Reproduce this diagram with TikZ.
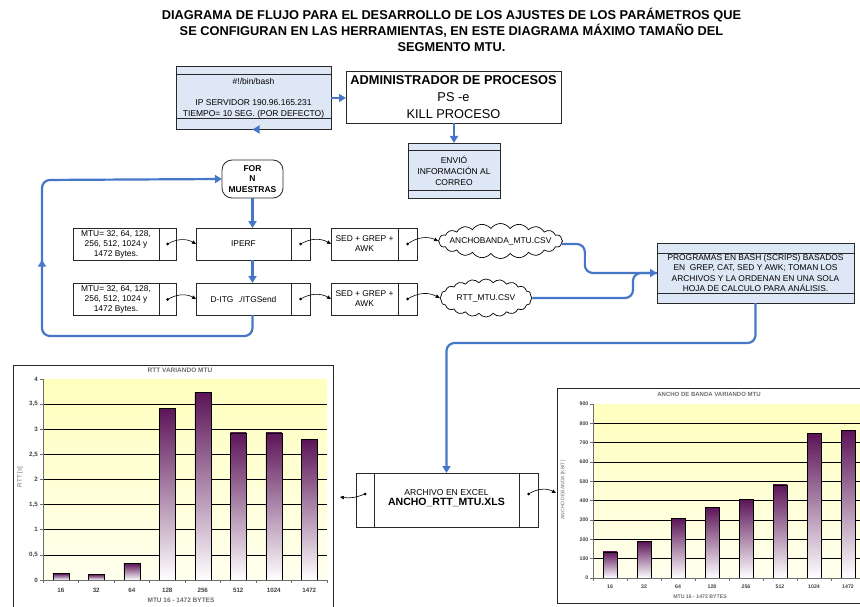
\documentclass[tikz,border=0pt]{standalone}
\usepackage{fontspec}
\setmainfont{Liberation Sans}
\usetikzlibrary{shapes.symbols,arrows.meta,calc,decorations.markings}

\definecolor{flowblue}{RGB}{70,118,200}
\definecolor{panelblue}{RGB}{222,231,245}
\definecolor{edgegray}{RGB}{40,40,40}
\definecolor{barpurple}{RGB}{92,20,88}
\definecolor{plottop}{RGB}{255,255,190}
\definecolor{plotbottom}{RGB}{255,255,238}
\definecolor{axisgray}{RGB}{110,110,110}

\tikzset{
  flow/.style={draw=flowblue, line width=2.2pt, rounded corners=8pt, -{Triangle[length=7pt,width=8pt]}},
  flowplain/.style={draw=flowblue, line width=2.2pt, rounded corners=8pt},
  rec/.style={draw=edgegray, line width=0.8pt, fill=white, inner sep=1pt, outer sep=0pt,
    font=\fontsize{8.4}{10}\selectfont, align=center},
  panel/.style={rec, fill=panelblue},
  link/.style={draw=black, line width=0.6pt, -{Triangle[length=4pt,width=3.5pt]}},
  dot/.style={circle, fill=black, inner sep=0pt, minimum size=3pt},
  csv/.style={cloud, cloud puffs=20, cloud puff arc=110, cloud ignores aspect, draw=black,
    line width=0.7pt, fill=white, inner xsep=-12pt, inner ysep=-3pt, font=\fontsize{8.4}{9}\selectfont},
  charttxt/.style={font=\bfseries\fontsize{6.5}{7}\selectfont, text=axisgray, inner sep=0.5pt},
  ticktxt/.style={font=\bfseries\fontsize{6.2}{7}\selectfont, text=black!75, inner sep=0.5pt},
  band/.style={draw=edgegray, line width=0.8pt},
}

\begin{document}
\begin{tikzpicture}[x=1pt,y=-1pt]
\useasboundingbox (0,0) rectangle (860,607);

% title
\node[font=\bfseries\fontsize{12.8}{15.8}\selectfont, align=center] (title) at (451.5,30)
  {DIAGRAMA DE FLUJO PARA EL DESARROLLO DE LOS AJUSTES DE LOS PARÁMETROS QUE\\
   SE CONFIGURAN EN LAS HERRAMIENTAS, EN ESTE DIAGRAMA MÁXIMO TAMAÑO DEL\\
   SEGMENTO MTU.};

% script header
\node[panel, minimum width=155, minimum height=63, font=\fontsize{8.5}{10.7}\selectfont] (bash) at (253.5,98)
  {\#!/bin/bash\\ \mbox{}\\ IP SERVIDOR 190.96.165.231\\ TIEMPO= 10 SEG. (POR DEFECTO)};
\draw[band] ($(bash.north west)+(0,8)$) -- ($(bash.north east)+(0,8)$);
\draw[band] ($(bash.south west)+(0,-11)$) -- ($(bash.south east)+(0,-11)$);

% process manager
\node[rec, minimum width=215, minimum height=52, font=\fontsize{12.8}{17}\selectfont] (admin) at (453.5,97.5)
  {\textbf{ADMINISTRADOR DE PROCESOS}\\ PS -e\\ KILL PROCESO};

% mail report
\node[panel, minimum width=92, minimum height=55, font=\fontsize{8.5}{11}\selectfont] (mail) at (454,170.5)
  {ENVIÓ\\ INFORMACIÓN AL\\ CORREO};
\draw[band] ($(mail.north west)+(0,7)$) -- ($(mail.north east)+(0,7)$);
\draw[band] ($(mail.south west)+(0,-8)$) -- ($(mail.south east)+(0,-8)$);

% loop
\node[rec, rounded corners=10pt, minimum width=61, minimum height=38, font=\bfseries\fontsize{8.5}{10.3}\selectfont] (for) at (252.5,179)
  {FOR\\ N\\ MUESTRAS};

% first row
\node[rec, minimum width=86, minimum height=32] (mtu1) at (116,244) {MTU= 32, 64, 128,\\ 256, 512, 1024 y\\ 1472 Bytes.};
\node[rec, minimum width=17, minimum height=32, anchor=west] (mtu1c) at (mtu1.east) {};
\node[rec, minimum width=95, minimum height=32] (iperf) at (243.5,244) {IPERF};
\node[rec, minimum width=19, minimum height=32, anchor=west] (iperfc) at (iperf.east) {};
\node[rec, minimum width=67, minimum height=32] (sed1) at (364.5,244) {SED + GREP +\\ AWK};
\node[rec, minimum width=19, minimum height=32, anchor=west] (sed1c) at (sed1.east) {};
\node[csv, minimum width=124, minimum height=35] (csv1) at (500.5,241) {ANCHOBANDA\_MTU.CSV};

% second row
\node[rec, minimum width=86, minimum height=32] (mtu2) at (116,299.5) {MTU= 32, 64, 128,\\ 256, 512, 1024 y\\ 1472 Bytes.};
\node[rec, minimum width=17, minimum height=32, anchor=west] (mtu2c) at (mtu2.east) {};
\node[rec, minimum width=95, minimum height=32] (ditg) at (243.5,299) {D-ITG\ \ ./ITGSend};
\node[rec, minimum width=19, minimum height=32, anchor=west] (ditgc) at (ditg.east) {};
\node[rec, minimum width=67, minimum height=32] (sed2) at (364.5,299) {SED + GREP +\\ AWK};
\node[rec, minimum width=19, minimum height=32, anchor=west] (sed2c) at (sed2.east) {};
\node[csv, minimum width=92, minimum height=38] (csv2) at (486,298) {RTT\_MTU.CSV};

% collecting scripts
\node[panel, minimum width=197, minimum height=60, font=\fontsize{8.4}{10.4}\selectfont] (prog) at (755.5,273)
  {PROGRAMAS EN BASH (SCRIPS) BASADOS\\ EN\ \ GREP, CAT, SED Y AWK; TOMAN LOS\\ ARCHIVOS Y LA ORDENAN EN UNA SOLA\\ HOJA DE CALCULO PARA ANÁLISIS.};
\draw[band] ($(prog.north west)+(0,10)$) -- ($(prog.north east)+(0,10)$);
\draw[band] ($(prog.south west)+(0,-10)$) -- ($(prog.south east)+(0,-10)$);

% spreadsheet
\node[rec, minimum width=145, minimum height=54, text depth=6pt, font=\fontsize{8.6}{10}\selectfont] (xls) at (446.5,500)
  {ARCHIVO EN EXCEL\\[0pt] {\bfseries\fontsize{10.5}{12}\selectfont ANCHO\_RTT\_MTU.XLS}};
\node[rec, minimum width=18, minimum height=54, anchor=east] (xlsl) at (xls.west) {};
\node[rec, minimum width=19, minimum height=54, anchor=west] (xlsr) at (xls.east) {};

% dots of the record connectors
\node[dot] (d1) at (mtu1c.center) {};
\node[dot] (d2) at (iperfc.center) {};
\node[dot] (d3) at (sed1c.center) {};
\node[dot] (d4) at (mtu2c.center) {};
\node[dot] (d5) at (ditgc.center) {};
\node[dot] (d6) at (sed2c.center) {};
\node[dot] (d7) at ($(xlsl.center)+(0,-6)$) {};
\node[dot] (d8) at ($(xlsr.center)+(0,-6)$) {};
\coordinate (rttin) at (340,497);
\coordinate (bwin) at (556,493);

\draw[link] (d1.center) to[bend left=30] (iperf.west);
\draw[link] (d2.center) to[bend left=30] (sed1.west);
\draw[link] (d3.center) to[bend left=30] (csv1.west);
\draw[link] (d4.center) to[bend left=30] (ditg.west);
\draw[link] (d5.center) to[bend left=30] (sed2.west);
\draw[link] (d6.center) to[bend left=30] (csv2.west);
\draw[link] (d7.center) to[bend left=15] (rttin);
\draw[link] (d8.center) to[bend left=30] (bwin);

% main flow
\draw[flow] (bash.east) -- (bash.east -| admin.west);
\draw[flow] (admin.south -| mail.north) -- (mail.north);
\draw[flow] (bash.south) -- (bash.south -| for.north);
\draw[flow] (for.south) -- (for.south |- iperf.north);
\draw[flow] (for.south |- iperf.south) -- (for.south |- ditg.north);
\draw[flow, postaction={decorate, decoration={markings,
    mark=at position 0.54 with {\arrow{Triangle[length=7pt,width=8pt]}}}}]
  (for.south |- ditg.south) -- ++(0,21) -| (42,180) -- (for.west);
\draw[flowplain] ($(csv1.east |- d3)+(-1,0)$) -- ++(23,0) |- (prog.west);
\draw[flow] (csv2.east) -| ($(prog.west)+(-24,0)$) -- (prog.west);
\draw[flow] (prog.south) -- ++(0,40) -| (xls.north);

% ---------- RTT chart ----------
\draw[edgegray, line width=1pt, fill=white] (13,365) rectangle (333,620);
\shade[top color=plottop, bottom color=plotbottom] (43,379) rectangle (327,580);
\foreach \v in {0.5,1,...,3.5}
  \draw[black, line width=0.6pt] (43,{580-50.25*\v}) -- (327,{580-50.25*\v});
\foreach \v [count=\i] in {0.13,0.11,0.33,3.42,3.73,2.93,2.93,2.80}
  \shade[top color=barpurple, bottom color=white, draw=black, line width=0.5pt]
    ({43+35.5*(\i-0.5)-8},580) rectangle ({43+35.5*(\i-0.5)+8},{580-50.25*\v});
\draw[axisgray, line width=0.8pt] (43,379) -- (43,580) -- (327,580);
\foreach \v/\l [count=\i] in {0/0,0.5/{0,5},1/1,1.5/{1,5},2/2,2.5/{2,5},3/3,3.5/{3,5},4/4} {
  \draw[axisgray, line width=0.6pt] (40,{580-50.25*\v}) -- (43,{580-50.25*\v});
  \node[ticktxt, anchor=east] (ry\i) at (38.5,{580-50.25*\v}) {\l};
}
\foreach \l [count=\i] in {16,32,64,128,256,512,1024,1472} {
  \draw[axisgray, line width=0.6pt] ({43+35.5*\i},580) -- ++(0,3);
  \node[ticktxt] (rx\i) at ({43+35.5*(\i-0.5)},590) {\l};
}
\draw[axisgray, line width=0.6pt] (43,580) -- ++(0,3);
\node[charttxt] (rtitle) at (180,370.5) {RTT VARIANDO MTU};
\node[charttxt] (rxlab) at (181,600.5) {MTU 16 - 1472 BYTES};
\node[charttxt, rotate=90, font=\fontsize{6.2}{7}\selectfont] (rylab) at (20,477) {RTT [s]};

% ---------- bandwidth chart ----------
\draw[edgegray, line width=1pt, fill=white] (557,388) rectangle (880,603);
\shade[top color=plottop, bottom color=plotbottom] (593,404) rectangle (865,578);
\foreach \v in {100,200,...,800}
  \draw[black, line width=0.6pt] (593,{578-0.19333*\v}) -- (865,{578-0.19333*\v});
\foreach \v [count=\i] in {135,188,308,365,405,482,750,765}
  \shade[top color=barpurple, bottom color=white, draw=black, line width=0.5pt]
    ({593+34*(\i-0.5)-7},578) rectangle ({593+34*(\i-0.5)+7},{578-0.19333*\v});
\draw[axisgray, line width=0.8pt] (593,404) -- (593,578) -- (865,578);
\foreach \v [count=\i] in {0,100,...,900} {
  \draw[axisgray, line width=0.6pt] (590,{578-0.19333*\v}) -- (593,{578-0.19333*\v});
  \node[ticktxt, font=\bfseries\fontsize{5.2}{6}\selectfont, anchor=east] (by\i) at (589,{578-0.19333*\v}) {\v};
}
\foreach \l [count=\i] in {16,32,64,128,256,512,1024,1472} {
  \draw[axisgray, line width=0.6pt] ({593+34*\i},578) -- ++(0,3);
  \node[ticktxt, font=\bfseries\fontsize{5.2}{6}\selectfont] (bx\i) at ({593+34*(\i-0.5)},586.5) {\l};
}
\draw[axisgray, line width=0.6pt] (593,578) -- ++(0,3);
\node[charttxt, font=\bfseries\fontsize{6}{7}\selectfont] (btitle) at (709,394.5) {ANCHO DE BANDA VARIANDO MTU};
\node[charttxt, font=\bfseries\fontsize{5.2}{6}\selectfont] (bxlab) at (700,597) {MTU 16 - 1472 BYTES};
\node[charttxt, rotate=90, font=\fontsize{5}{6}\selectfont] (bylab) at (563,490) {ANCHO DEBANDA [KBIT]};
\end{tikzpicture}
\end{document}
